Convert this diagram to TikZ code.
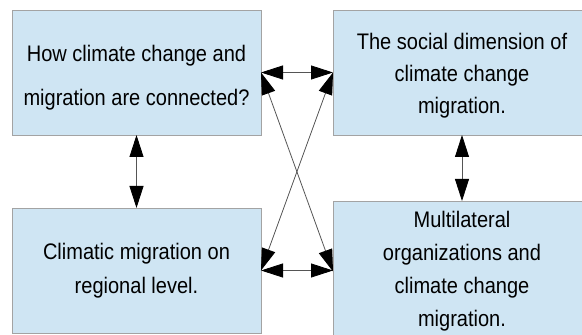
\documentclass[tikz,border=0pt]{standalone}
\usepackage{fontspec}
\setmainfont{Liberation Sans}[FakeStretch=0.89]
\usetikzlibrary{arrows.meta,positioning}
\definecolor{panelBlue}{HTML}{CFE5F3}
\definecolor{panelEdge}{HTML}{A3A3A3}
\definecolor{linkGray}{HTML}{555555}

\begin{document}
\begin{tikzpicture}[
  x=1pt,y=1pt,
  node distance=73pt and 72pt,
  panel/.style={rectangle,draw=panelEdge,fill=panelBlue,line width=0.9pt,align=center,inner sep=0pt,outer sep=0pt,minimum height=125pt,font=\fontsize{22.5}{34.3}\selectfont},
  link/.style={{Triangle[length=22pt,width=14pt,color=black]}-{Triangle[length=22pt,width=14pt,color=black]},line width=0.8pt,color=linkGray}
]
\useasboundingbox (0,0) rectangle (582,335);
% the struts push the first lines a little lower in their boxes
\node[panel,minimum width=249pt,font=\fontsize{22.5}{43.4}\selectfont] (causes) at (136.5,262.5) {\rule{0pt}{27pt}How climate change and\\migration are connected?};
\node[panel,minimum width=258pt,right=72pt of causes,font=\fontsize{22.5}{32}\selectfont] (social) {\rule{0pt}{22pt}The social dimension of\\climate change\\migration.};
\node[panel,minimum width=249pt,below=of causes] (regional) {Climatic migration on\\regional level.};
\node[panel,minimum width=258pt,minimum height=141pt,below=66pt of social,font=\fontsize{22.5}{33}\selectfont] (multilateral) {Multilateral\\organizations and\\climate change\\migration.};
\draw[link] (causes.east) -- (social.west);
\draw[link] (regional.east) -- (regional.east -| multilateral.west);
\draw[link] (causes.east) -- (multilateral.west);
\draw[link] (social.west) -- (regional.east);
\draw[link] (causes.south) -- (regional.north);
\draw[link] (social.south) -- (multilateral.north);
\end{tikzpicture}
\end{document}
